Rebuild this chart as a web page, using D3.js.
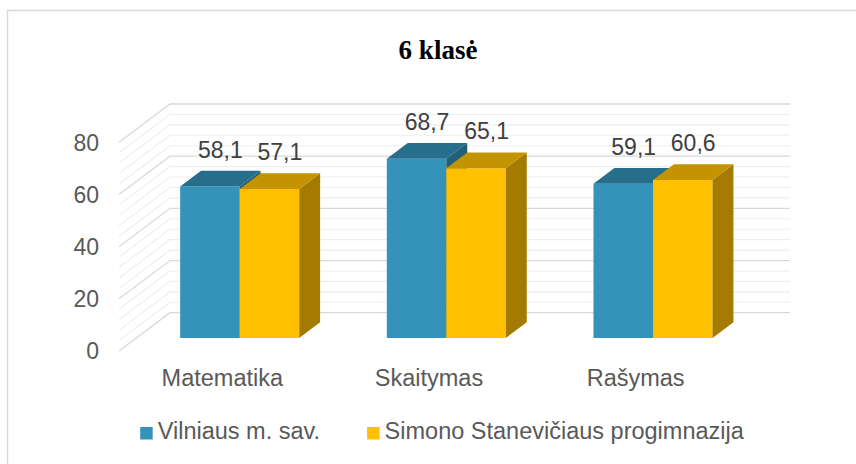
<!DOCTYPE html>
<html>
<head>
<meta charset="utf-8">
<script src="https://cdn.jsdelivr.net/npm/d3@7"></script>
<style>
body { margin: 0; background: #fff; }
svg { display: block; }
</style>
</head>
<body>
<svg id="chart"></svg>
<script>
var title = "6 klasė";
var categories = ["Matematika", "Skaitymas", "Rašymas"];
var seriesNames = ["Vilniaus m. sav.", "Simono Stanevičiaus progimnazija"];
var vilnius = [58.1, 68.7, 59.1];
var simono = [57.1, 65.1, 60.6];
var yTicks = [0, 20, 40, 60, 80];

var screen = {width: 856, height: 464};
// front edge of the floor, and the shift from front to back wall
var front = {left: 119, right: 739, zero: 351};
var depth = {dx: 51, dy: -38.3};
var barDepth = [0.34, 0.75];

var colors = [
    {front: "#3593ba", top: "#266e8b", side: "#215f78"},
    {front: "#ffc000", top: "#c49300", side: "#a47b00"}
];

var svg = d3.select("#chart")
    .attr("width", screen.width)
    .attr("height", screen.height);

var yScale = d3.scaleLinear().domain([0, 80]).range([0, 208.7]);
var xScale = d3.scaleBand()
    .domain(categories)
    .range([front.left, front.right])
    .paddingInner(0.424)
    .paddingOuter(0.212);
var subScale = d3.scaleBand()
    .domain([0, 1])
    .range([0, xScale.bandwidth()]);

// x on the front plane, value v, depth f (0 front .. 1 back)
var pt = function(x, v, f) {
    return [x + f * depth.dx, front.zero + f * depth.dy - yScale(v)];
};
var poly = function(points) {
    return points.map(function(p) { return p.join(","); }).join(" ");
};

// chart frame
svg.append("rect")
    .attr("x", 7.5).attr("y", 10.5)
    .attr("width", 900).attr("height", 500)
    .attr("fill", "none")
    .attr("stroke", "#d9d9d9")
    .attr("stroke-width", 1.5);

svg.append("text")
    .attr("x", 438).attr("y", 59)
    .attr("text-anchor", "middle")
    .style("font-family", "'Liberation Serif', 'Times New Roman', serif")
    .style("font-weight", "bold")
    .style("font-size", "27px")
    .attr("fill", "#000")
    .text(title);

// gridlines on back wall and left wall
var gridValues = d3.range(0, 81, 4);
var grid = svg.append("g").attr("id", "grid").attr("fill", "none");
gridValues.forEach(function(v) {
    var major = v % 20 === 0;
    var a = pt(front.left, v, 0), b = pt(front.left, v, 1), c = pt(front.right, v, 1);
    grid.append("polyline")
        .attr("points", poly([a, b, c]))
        .attr("stroke", major ? "#d9d9d9" : "#eeeeee")
        .attr("stroke-width", major ? 1.3 : 1.1);
});

// y tick labels
svg.append("g").selectAll("text")
    .data(yTicks)
    .enter()
    .append("text")
    .attr("x", front.left - 20)
    .attr("y", function(d) { return front.zero - yScale(d); })
    .attr("dy", "0.36em")
    .attr("text-anchor", "end")
    .style("font-family", "'Liberation Sans', Arial, sans-serif")
    .style("font-size", "23px")
    .attr("fill", "#595959")
    .text(function(d) { return d; });

// bars
var series = [vilnius, simono];
var f0 = barDepth[0], f1 = barDepth[1];
var bars = svg.append("g").attr("id", "bars");
var labels = [];
categories.forEach(function(cat, i) {
    series.forEach(function(values, s) {
        var v = values[i];
        var x0 = xScale(cat) + subScale(s);
        var x1 = x0 + subScale.bandwidth();
        var g = bars.append("g");
        g.append("polygon")
            .attr("points", poly([pt(x0, 0, f0), pt(x1, 0, f0), pt(x1, v, f0), pt(x0, v, f0)]))
            .attr("fill", colors[s].front);
        g.append("polygon")
            .attr("points", poly([pt(x1, 0, f0), pt(x1, 0, f1), pt(x1, v, f1), pt(x1, v, f0)]))
            .attr("fill", colors[s].side);
        g.append("polygon")
            .attr("points", poly([pt(x0, v, f0), pt(x1, v, f0), pt(x1, v, f1), pt(x0, v, f1)]))
            .attr("fill", colors[s].top);
        var mid = pt((x0 + x1) / 2, v, (f0 + f1) / 2);
        labels.push({x: mid[0], y: pt(x0, v, f1)[1] - 13, value: v});
    });
});

svg.append("g").selectAll("text")
    .data(labels)
    .enter()
    .append("text")
    .attr("x", function(d) { return d.x; })
    .attr("y", function(d) { return d.y; })
    .attr("text-anchor", "middle")
    .style("font-family", "'Liberation Sans', Arial, sans-serif")
    .style("font-size", "23px")
    .attr("fill", "#404040")
    .text(function(d) { return d3.format(".1f")(d.value).replace(".", ","); });

// category labels
svg.append("g").selectAll("text")
    .data(categories)
    .enter()
    .append("text")
    .attr("x", function(d) { return xScale(d) + xScale.bandwidth() / 2; })
    .attr("y", front.zero + 35)
    .attr("text-anchor", "middle")
    .style("font-family", "'Liberation Sans', Arial, sans-serif")
    .style("font-size", "23.5px")
    .attr("fill", "#595959")
    .text(function(d) { return d; });

// legend
var legend = svg.append("g").attr("id", "legend");
var items = legend.selectAll("g")
    .data(seriesNames)
    .enter()
    .append("g");
items.append("rect")
    .attr("width", 12.5).attr("height", 12.5)
    .attr("y", -12)
    .attr("fill", function(d, i) { return colors[i].front; });
items.append("text")
    .attr("x", 17.5)
    .style("font-family", "'Liberation Sans', Arial, sans-serif")
    .style("font-size", "23.5px")
    .attr("fill", "#595959")
    .text(function(d) { return d; });

var gap = 47, pos = 0, widths = [];
items.each(function() {
    var w = 17.5 + d3.select(this).select("text").node().getComputedTextLength();
    widths.push(pos);
    pos += w + gap;
});
var total = pos - gap;
var startX = 442 - total / 2;
items.attr("transform", function(d, i) { return "translate(" + (startX + widths[i]) + ",439)"; });
</script>
</body>
</html>
